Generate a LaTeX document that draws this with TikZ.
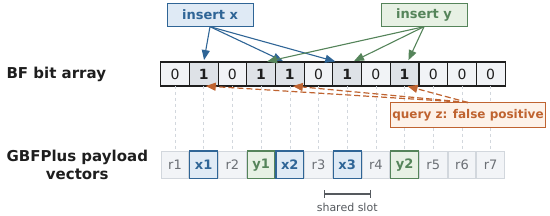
\documentclass[tikz,border=0pt]{standalone}
\usepackage{fontspec}
\setmainfont{DejaVu Sans}
\usetikzlibrary{arrows.meta,positioning}

\definecolor{bitline}{HTML}{1E1E1E}
\definecolor{bitzero}{HTML}{F1F3F6}
\definecolor{bitset}{HTML}{DEE2E7}
\definecolor{xblue}{HTML}{2F6596}
\definecolor{xbluefill}{HTML}{DFEAF5}
\definecolor{ygreen}{HTML}{55845A}
\definecolor{ygreenfill}{HTML}{E7F1E4}
\definecolor{zorange}{HTML}{BF6330}
\definecolor{zorangefill}{HTML}{FDF2E9}
\definecolor{rline}{HTML}{D2D7DD}
\definecolor{rfill}{HTML}{F2F4F7}
\definecolor{rtext}{HTML}{6B6F75}
\definecolor{slotgray}{HTML}{55595E}

\begin{document}
\begin{tikzpicture}[
  x=1pt, y=1pt,
  font=\fontsize{13}{15}\selectfont,
  >={Triangle[length=10pt,width=8pt]},
  node distance=0pt,
  label/.style={font=\fontsize{15}{18}\selectfont\bfseries, text=bitline, align=center, anchor=west},
  bitcell/.style={draw=bitline, line width=1.1pt, fill=bitzero, text=bitline, minimum width=28.7pt, minimum height=24pt, inner sep=0pt, outer sep=0pt, font=\fontsize{14}{16}\selectfont},
  bitone/.style={bitcell, fill=bitset, font=\fontsize{14}{16}\selectfont\bfseries},
  slot/.style={draw=rline, line width=0.8pt, fill=rfill, text=rtext, minimum width=27.7pt, minimum height=27.5pt, inner sep=0pt, outer sep=0pt, font=\fontsize{13}{15}\selectfont},
  xslot/.style={slot, draw=xblue, fill=xbluefill, text=xblue, line width=1.1pt, font=\fontsize{13}{15}\selectfont\bfseries},
  yslot/.style={slot, draw=ygreen, fill=ygreenfill, text=ygreen, line width=1.1pt, font=\fontsize{13}{15}\selectfont\bfseries},
  opbox/.style={draw, line width=1pt, minimum width=86pt, minimum height=23pt, inner sep=2pt, font=\fontsize{13}{15}\selectfont\bfseries},
  guide/.style={draw=rline, dashed, line width=0.6pt},
  xflow/.style={->, xblue, line width=1.1pt, shorten >=2pt},
  yflow/.style={->, ygreen, line width=1.1pt, shorten >=2pt},
  zflow/.style={->, zorange, line width=1.2pt, dash pattern=on 6pt off 3pt, shorten >=1pt},
  bracket/.style={{Bar[width=8pt]}-{Bar[width=8pt]}, draw=slotgray, line width=1.1pt}
]
\useasboundingbox (0,0) rectangle (550,216);

\node[label] (bflbl) at (3,142) {BF bit array};
\node[label] (pvlbl) at (3,51) {GBFPlus payload\\vectors};

% bit array
\node[bitcell] (b0) at (175,142) {0};
\node[bitone, right=of b0] (b1) {1};
\node[bitcell, right=of b1] (b2) {0};
\node[bitone, right=of b2] (b3) {1};
\node[bitone, right=of b3] (b4) {1};
\node[bitcell, right=of b4] (b5) {0};
\node[bitone, right=of b5] (b6) {1};
\node[bitcell, right=of b6] (b7) {0};
\node[bitone, right=of b7] (b8) {1};
\node[bitcell, right=of b8] (b9) {0};
\node[bitcell, right=of b9] (b10) {0};
\node[bitcell, right=of b10] (b11) {0};

% payload slots
\node[slot, below=65pt of b0] (p0) {r1};
\node[xslot, right=1pt of p0] (p1) {x1};
\node[slot, right=1pt of p1] (p2) {r2};
\node[yslot, right=1pt of p2] (p3) {y1};
\node[xslot, right=1pt of p3] (p4) {x2};
\node[slot, right=1pt of p4] (p5) {r3};
\node[xslot, right=1pt of p5] (p6) {x3};
\node[slot, right=1pt of p6] (p7) {r4};
\node[yslot, right=1pt of p7] (p8) {y2};
\node[slot, right=1pt of p8] (p9) {r5};
\node[slot, right=1pt of p9] (p10) {r6};
\node[slot, right=1pt of p10] (p11) {r7};

\draw[guide] (b0.south) -- (p0.north);
\draw[guide] (b1.south) -- (p1.north);
\draw[guide] (b2.south) -- (p2.north);
\draw[guide] (b3.south) -- (p3.north);
\draw[guide] (b4.south) -- (p4.north);
\draw[guide] (b5.south) -- (p5.north);
\draw[guide] (b6.south) -- (p6.north);
\draw[guide] (b7.south) -- (p7.north);
\draw[guide] (b8.south) -- (p8.north);
\draw[guide] (b9.south) -- (p9.north);
\draw[guide] (b10.south) -- (p10.north);
\draw[guide] (b11.south) -- (p11.north);

\node[opbox, draw=xblue, fill=xbluefill, text=xblue] (insx) at (210,201.3) {insert x};
\node[opbox, draw=ygreen, fill=ygreenfill, text=ygreen] (insy) at (424,201.3) {insert y};
\node[opbox, draw=zorange, fill=zorangefill, text=zorange, minimum width=154pt, minimum height=25pt, font=\fontsize{12}{14}\selectfont\bfseries] (query) at (468,100.5) {query z: false positive};

\draw[xflow] (insx.south) -- (b1.north);
\draw[xflow] (insx.south) -- ([xshift=-5pt]b4.north);
\draw[xflow] (insx.south) -- ([xshift=-10pt]b6.north);

\draw[yflow] (insy.south) -- ([xshift=4pt]b3.north);
\draw[yflow] (insy.south) -- ([xshift=5pt]b6.north);
\draw[yflow] (insy.south) -- ([xshift=3pt]b8.north);

\draw[zflow] (query.north) -- ([xshift=1pt]b1.south);
\draw[zflow] (query.north) -- ([xshift=2pt]b4.south);
\draw[zflow] (query.north) -- ([xshift=2pt]b8.south);

% shared slot marker
\coordinate[below=15.5pt of p6.south] (sm);
\coordinate (sa) at ([xshift=-23.5pt]sm);
\coordinate (sb) at ([xshift=23.5pt]sm);
\draw[bracket] (sa) -- (sb);
\node[below=6pt of sm, text=slotgray, font=\fontsize{11}{13}\selectfont] (slotlbl) {shared slot};
\end{tikzpicture}
\end{document}
